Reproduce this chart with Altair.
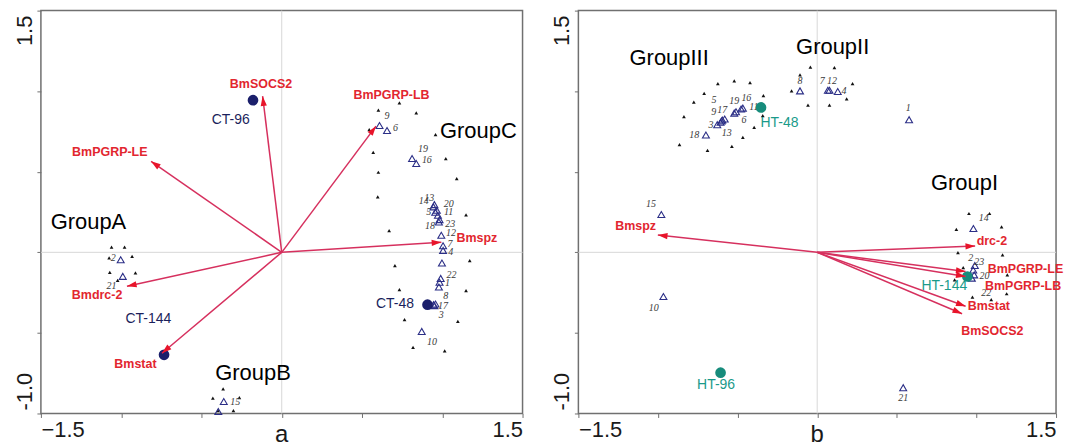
import altair as alt
import pandas as pd

# ---------------- Panel a ----------------
a_arrow_names = ["BmSOCS2", "BmPGRP-LB", "BmPGRP-LE", "Bmspz", "Bmdrc-2", "Bmstat"]
a_arrow_x = [-0.119, 0.587, -0.814, 0.994, -0.964, -0.746]
a_arrow_y = [0.969, 0.783, 0.565, 0.062, -0.211, -0.626]
a_arrow_lx = [-0.129, 0.684, -1.071, 1.215, -1.150, -0.911]
a_arrow_ly = [1.046, 0.974, 0.623, 0.089, -0.267, -0.694]

a_site_names = ["CT-96", "CT-48", "CT-144"]
a_site_x = [-0.179, 0.908, -0.733]
a_site_y = [0.944, -0.325, -0.636]
a_site_lx = [-0.318, 0.705, -0.831]
a_site_ly = [0.824, -0.321, -0.412]

a_sample_names = ["9", "6", "19", "16", "13", "14", "20", "5", "11", "23", "18", "12", "7", "4", "",
                  "22", "1", "", "8", "17", "3", "10", "2", "21", "15", ""]
a_sample_x = [0.609, 0.656, 0.812, 0.838, 0.951, 0.945, 0.966, 0.956, 0.973, 0.983, 0.979, 0.994, 1.005, 1.005, 0.998,
              0.990, 0.983, 0.979, 0.958, 0.945, 0.951, 0.872, -1.003, -0.990, -0.361, -0.395]
a_sample_y = [0.787, 0.756, 0.582, 0.551, 0.296, 0.282, 0.261, 0.249, 0.230, 0.203, 0.188, 0.106, 0.041, 0.012, -0.066,
              -0.162, -0.186, -0.215, -0.321, -0.325, -0.331, -0.491, -0.046, -0.149, -0.926, -0.988]
a_sample_lx = [0.656, 0.709, 0.880, 0.904, 0.919, 0.885, 1.040, 0.915, 1.040, 1.050, 0.924, 1.054, 1.048, 1.052, 0.998,
               1.058, 1.033, 0.979, 1.022, 1.005, 0.994, 0.936, -1.050, -1.060, -0.290, -0.395]
a_sample_ly = [0.845, 0.773, 0.644, 0.570, 0.340, 0.321, 0.298, 0.249, 0.250, 0.176, 0.166, 0.120, 0.054, 0.000, -0.066,
               -0.139, -0.191, -0.215, -0.273, -0.331, -0.391, -0.557, -0.037, -0.211, -0.926, -0.988]

a_dot_x = [0.602, 0.733, 0.838, 0.545, 0.958, 0.570, 1.022, 0.602, 1.090, 0.598, 1.148, 0.669, 1.171, 0.705,
           0.733, 1.148, 0.765, 1.097, 0.818, 1.015,
           -1.060, -0.979, -1.075, -0.932, -1.071, -0.911, -1.022,
           -0.365, -0.429, -0.264, -0.301, -0.397]
a_dot_y = [0.882, 0.928, 0.866, 0.762, 0.731, 0.621, 0.582, 0.497, 0.458, 0.344, 0.232, 0.135, -0.052, -0.083,
           -0.232, -0.238, -0.418, -0.429, -0.590, -0.611,
           0.033, 0.033, -0.035, -0.025, -0.124, -0.128, -0.174,
           -0.847, -0.905, -0.901, -0.982, -0.982]

a_group_names = ["GroupA", "GroupB", "GroupC"]
a_group_x = [-1.204, -0.179, 1.225]
a_group_y = [0.188, -0.750, 0.752]

# ---------------- Panel b ----------------
b_arrow_names = ["Bmspz", "drc-2", "BmPGRP-LE", "BmPGRP-LB", "Bmstat", "BmSOCS2"]
b_arrow_x = [-1.001, 0.992, 0.932, 0.932, 0.932, 0.910]
b_arrow_y = [0.107, 0.039, -0.119, -0.150, -0.335, -0.381]
b_arrow_lx = [-1.141, 1.097, 1.308, 1.293, 1.078, 1.100]
b_arrow_ly = [0.163, 0.070, -0.105, -0.206, -0.335, -0.486]

b_site_names = ["HT-48", "HT-96", "HT-144"]
b_site_x = [-0.353, -0.607, 0.943]
b_site_y = [0.899, -0.747, -0.150]
b_site_lx = [-0.237, -0.635, 0.798]
b_site_ly = [0.800, -0.825, -0.212]

b_sample_names = ["18", "3", "13", "9", "17", "5", "19", "16", "11", "6",
                  "8", "7", "12", "4", "1", "15", "10", "21", "14", "2", "23", "20", "22"]
b_sample_x = [-0.699, -0.628, -0.607, -0.596, -0.581, -0.521, -0.510, -0.478, -0.467, -0.600,
              -0.108, 0.067, 0.077, 0.129, 0.577, -0.979, -0.966, 0.540, 0.981, 0.990, 0.980, 0.986, 0.971]
b_sample_y = [0.728, 0.792, 0.807, 0.821, 0.827, 0.864, 0.872, 0.889, 0.895, 0.815,
              1.002, 1.006, 1.006, 0.998, 0.823, 0.235, -0.274, -0.840, 0.148, -0.082, -0.110, -0.140, -0.160]
b_sample_lx = [-0.773, -0.667, -0.568, -0.650, -0.596, -0.648, -0.521, -0.445, -0.398, -0.460,
               -0.108, 0.032, 0.093, 0.168, 0.572, -1.044, -1.026, 0.540, 1.046, 0.964, 1.018, 1.050, 1.061]
b_sample_ly = [0.728, 0.792, 0.741, 0.872, 0.883, 0.947, 0.936, 0.955, 0.903, 0.823,
               1.064, 1.064, 1.064, 1.002, 0.895, 0.298, -0.346, -0.901, 0.216, -0.037, -0.058, -0.150, -0.253]

b_dot_x = [-0.865, -0.837, -0.775, -0.710, -0.624, -0.521, -0.422, -0.338, -0.342, -0.396, -0.467, -0.536, -0.689,
           -0.108, -0.043, 0.108, 0.222, 0.185, 0.077, -0.058, -0.161,
           0.953, 1.082, 1.158, 0.874, 1.164, 0.884, 1.194, 0.917, 1.190, 1.093, 0.975, 0.863]
b_dot_y = [0.669, 0.842, 0.932, 0.986, 1.047, 1.064, 1.053, 0.973, 0.848, 0.776, 0.714, 0.658, 0.632,
           1.101, 1.150, 1.146, 1.047, 0.953, 0.914, 0.914, 1.002,
           0.241, 0.241, 0.158, 0.142, -0.016, -0.002, -0.140, -0.095, -0.257, -0.294, -0.278, -0.171]

b_group_names = ["GroupIII", "GroupII", "GroupI"]
b_group_x = [-0.930, 0.097, 0.925]
b_group_y = [1.204, 1.276, 0.430]

# ---------------- axes ----------------
x_domain = [-1.5, 1.5]
y_domain = [-1.0, 1.5]
x_ticks = [-1.5, -1.0, -0.5, 0.0, 0.5, 1.0, 1.5]
y_ticks = [-1.0, -0.5, 0.0, 0.5, 1.0, 1.5]
y_tick_labels = ["1.5", "-1.0"]

FONT = "Liberation Sans"
ARROW_HEAD = "M0,0L-0.55,1.7L0.55,1.7Z"


def panel(arrow_names, ax, ay, alx, aly, site_names, sx, sy, slx, sly, site_color, site_label_color,
          sample_names, smx, smy, smlx, smly, dot_x, dot_y, group_names, gx, gy, title, W, H):
    xs = alt.Scale(domain=x_domain, nice=False, zero=False)
    ys = alt.Scale(domain=y_domain, nice=False, zero=False)
    xaxis = alt.Axis(values=x_ticks, format=".1f", title=None, labelFlush=True, labelOverlap=False,
                     labelExpr="(datum.value == -1.5 || datum.value == 1.5) ? datum.label : ''",
                     tickSize=4, labelPadding=2, domain=False, grid=False)
    yaxis = alt.Axis(values=y_ticks, labels=False, title=None, tickSize=4, domain=False, grid=False)

    def X(f):
        return alt.X(f, type="quantitative", scale=xs, axis=xaxis)

    def Y(f):
        return alt.Y(f, type="quantitative", scale=ys, axis=yaxis)

    zero = pd.DataFrame({"v": [0.0]})
    vline = alt.Chart(zero).mark_rule(color="#d8d8d8", strokeWidth=1).encode(x=X("v"))
    hline = alt.Chart(zero).mark_rule(color="#d8d8d8", strokeWidth=1).encode(y=Y("v"))

    dots = alt.Chart(pd.DataFrame({"x": dot_x, "y": dot_y})).mark_point(
        shape="triangle-up", filled=True, size=14, color="#111111", opacity=1
    ).encode(x=X("x"), y=Y("y"))

    sdf = pd.DataFrame({"name": sample_names, "x": smx, "y": smy, "lx": smlx, "ly": smly})
    samples = alt.Chart(sdf).mark_point(
        shape="triangle-up", filled=False, size=48, strokeWidth=1.1, color="#2b2e86", opacity=1
    ).encode(x=X("x"), y=Y("y"))
    sample_text = alt.Chart(sdf).mark_text(
        font="Liberation Serif", fontStyle="italic", fontSize=10, color="#3a3a3a"
    ).encode(x=X("lx"), y=Y("ly"), text="name:N")

    sitedf = pd.DataFrame({"name": site_names, "x": sx, "y": sy, "lx": slx, "ly": sly})
    sites = alt.Chart(sitedf).mark_circle(size=115, color=site_color, opacity=1).encode(x=X("x"), y=Y("y"))
    site_text = alt.Chart(sitedf).mark_text(font=FONT, fontSize=14, color=site_label_color).encode(
        x=X("lx"), y=Y("ly"), text="name:N")

    adf = pd.DataFrame({"name": arrow_names, "x": ax, "y": ay, "lx": alx, "ly": aly})
    adf["ox"] = 0.0
    adf["oy"] = 0.0
    lines = alt.Chart(adf).mark_rule(color="#d6305e", strokeWidth=1.5).encode(
        x=X("ox"), y=Y("oy"), x2="x:Q", y2="y:Q")
    heads = alt.Chart(adf).transform_calculate(
        ang="(atan2(datum.x * %f, datum.y * %f) * 180 / PI + 360) %% 360" % (W / 3.0, H / 2.5)
    ).mark_point(shape=ARROW_HEAD, filled=True, size=130, color="#e8142a", opacity=1).encode(
        x=X("x"), y=Y("y"), angle=alt.Angle("ang:Q", scale=None))
    arrow_text = alt.Chart(adf).mark_text(font=FONT, fontWeight="bold", fontSize=12.5, color="#e2262f").encode(
        x=X("lx"), y=Y("ly"), text="name:N")

    gdf = pd.DataFrame({"name": group_names, "x": gx, "y": gy})
    groups = alt.Chart(gdf).mark_text(font=FONT, fontSize=22, color="#000000").encode(
        x=X("x"), y=Y("y"), text="name:N")

    ydf = pd.DataFrame({"t": y_tick_labels})
    ytop = alt.Chart(ydf).transform_filter("datum.t == '1.5'").mark_text(
        font=FONT, fontSize=22, color="#1a1a1a", angle=270, align="right", baseline="middle"
    ).encode(x=alt.value(-16), y=alt.value(5), text="t:N")
    ybot = alt.Chart(ydf).transform_filter("datum.t == '-1.0'").mark_text(
        font=FONT, fontSize=22, color="#1a1a1a", angle=270, align="left", baseline="middle"
    ).encode(x=alt.value(-16), y=alt.value(H - 3), text="t:N")

    tdf = pd.DataFrame({"v": [0.0], "t": [title]})
    xtitle = alt.Chart(tdf).mark_text(font=FONT, fontSize=24, color="#1a1a1a", baseline="alphabetic").encode(
        x=X("v"), y=alt.value(H + 29), text="t:N")

    return alt.layer(vline, hline, dots, samples, sample_text, sites, lines, heads, site_text,
                     arrow_text, groups, ytop, ybot, xtitle).properties(width=W, height=H)


left = panel(a_arrow_names, a_arrow_x, a_arrow_y, a_arrow_lx, a_arrow_ly,
             a_site_names, a_site_x, a_site_y, a_site_lx, a_site_ly, "#1b1f6b", "#1b1f5c",
             a_sample_names, a_sample_x, a_sample_y, a_sample_lx, a_sample_ly,
             a_dot_x, a_dot_y, a_group_names, a_group_x, a_group_y, "a", 483, 404)
right = panel(b_arrow_names, b_arrow_x, b_arrow_y, b_arrow_lx, b_arrow_ly,
              b_site_names, b_site_x, b_site_y, b_site_lx, b_site_ly, "#178c7c", "#1a9a8a",
              b_sample_names, b_sample_x, b_sample_y, b_sample_lx, b_sample_ly,
              b_dot_x, b_dot_y, b_group_names, b_group_x, b_group_y, "b", 479, 404)

chart = alt.hconcat(left, right, spacing=56, bounds="flush").properties(
    padding={"left": 5, "top": 0, "right": 5, "bottom": 0}
).configure_view(stroke="#707070", strokeWidth=1.5).configure_axis(
    labelFont=FONT, labelFontSize=22, labelColor="#1a1a1a", tickColor="#707070"
)

chart.save("out.html", embed_options={"renderer": "svg", "actions": False})
